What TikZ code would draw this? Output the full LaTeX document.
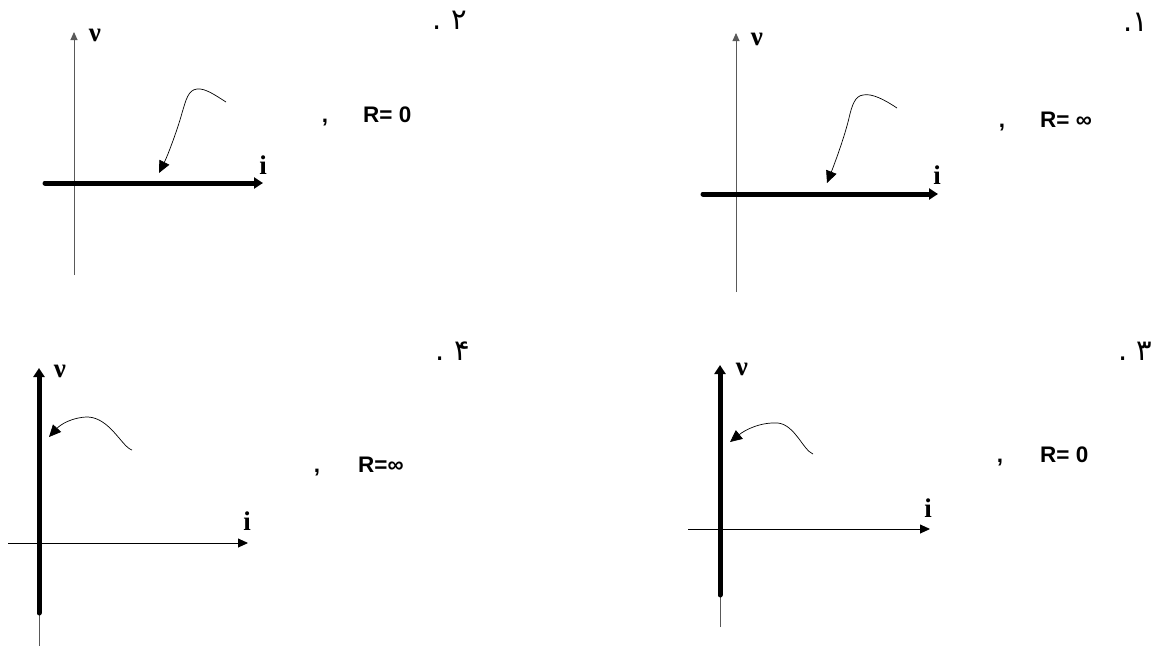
\documentclass[tikz,border=0pt]{standalone}
\usepackage{fontspec}
\setmainfont{Liberation Serif}
\newfontfamily\arialfont{Liberation Sans}
\newfontfamily\arabicfont[Script=Arabic]{DejaVu Sans}
\TeXXeTstate=1
\usetikzlibrary{arrows.meta}
\begin{document}
\begin{tikzpicture}[x=1pt,y=-1pt,
  thinaxis/.style={draw=gray!70!black, line width=0.9pt, -{Triangle[length=8pt,width=7pt]}},
  blackaxis/.style={draw=black, line width=0.9pt, -{Triangle[length=10pt,width=9pt]}},
  thinstub/.style={draw=gray!70!black, line width=0.9pt},
  thickline/.style={line width=5pt, line cap=round, -{Triangle[length=9pt,width=11pt]}},
  pointer/.style={line width=0.7pt, -{Triangle[length=12pt,width=11pt]}},
  axlabel/.style={inner sep=0pt, font=\fontsize{27}{27}\selectfont\bfseries},
  rlabel/.style={inner sep=0pt, anchor=base west, font=\arialfont\fontsize{22.5}{22.5}\selectfont\bfseries},
  commalabel/.style={inner sep=0pt, anchor=base, font=\arialfont\fontsize{22.5}{22.5}\selectfont\bfseries},
  numlabel/.style={inner sep=0pt, font=\arabicfont\fontsize{29}{29}\selectfont}]
\useasboundingbox (0,0) rectangle (1154,646);

% ---------- Panel 1 (top right) ----------
\coordinate (a1b) at (736,292); \coordinate (a1t) at (736,33);
\coordinate (h1l) at (703,194); \coordinate (h1r) at (938,194);
\draw[thinaxis] (a1b) -- (a1t);
\draw[thickline] (h1l) -- (h1r);
\coordinate (s1) at (897,108); \coordinate (p1) at (863,95); \coordinate (t1) at (827,183);
\draw[pointer] (s1) .. controls (885,100) and (872,93) .. (p1)
  .. controls (855,96) and (852,105) .. (849,118)
  .. controls (845,135) and (836,160) .. (t1);
\node[axlabel] (v1) at (757,39) {ν};
\node[axlabel] (i1) at (937,175) {i};
\node[commalabel] (c1) at (1002,127) {,};
\node[rlabel] (r1) at (1040,127) {R= ∞};
\node[numlabel] (n1) at (1136,22) {\beginR ۱.\endR};

% ---------- Panel 2 (top left) ----------
\coordinate (a2b) at (74,275); \coordinate (a2t) at (74,32);
\coordinate (h2l) at (45,183); \coordinate (h2r) at (263,183);
\draw[thinaxis] (a2b) -- (a2t);
\draw[thickline] (h2l) -- (h2r);
\coordinate (s2) at (226,102); \coordinate (p2) at (197,89); \coordinate (t2) at (159,173);
\draw[pointer] (s2) .. controls (215,95) and (205,88) .. (p2)
  .. controls (188,90) and (186,100) .. (182,113)
  .. controls (178,128) and (168,155) .. (t2);
\node[axlabel] (v2) at (95,35) {ν};
\node[axlabel] (i2) at (263,165) {i};
\node[commalabel] (c2) at (325,122) {,};
\node[rlabel] (r2) at (363,122) {R= 0};
\node[numlabel] (n2) at (450,20) {\beginR ۲ .\endR};

% ---------- Panel 4 (bottom left) ----------
\coordinate (a4b) at (39,646); \coordinate (a4m) at (39,600);
\coordinate (v4b) at (39,613); \coordinate (v4t) at (39,368);
\coordinate (h4l) at (8,543); \coordinate (h4r) at (248,543);
\draw[thinstub] (a4b) -- (a4m);
\draw[blackaxis] (h4l) -- (h4r);
\draw[thickline] (v4b) -- (v4t);
\coordinate (s4) at (132,450); \coordinate (p4) at (88,417); \coordinate (t4) at (49,437);
\draw[pointer] (s4) .. controls (122,447) and (110,418) .. (p4)
  .. controls (72,417) and (60,425) .. (t4);
\node[axlabel] (v4) at (60,371) {ν};
\node[axlabel] (i4) at (247,521) {i};
\node[commalabel] (c4) at (317,472) {,};
\node[rlabel] (r4) at (358,472) {R=∞};
\node[numlabel] (n4) at (453,351) {\beginR ۴ .\endR};

% ---------- Panel 3 (bottom right) ----------
\coordinate (a3b) at (720,627); \coordinate (a3m) at (720,580);
\coordinate (v3b) at (720,595); \coordinate (v3t) at (720,365);
\coordinate (h3l) at (688,529); \coordinate (h3r) at (930,529);
\draw[thinstub] (a3b) -- (a3m);
\draw[blackaxis] (h3l) -- (h3r);
\draw[thickline] (v3b) -- (v3t);
\coordinate (s3) at (813,454); \coordinate (p3) at (778,423); \coordinate (t3) at (730,442);
\draw[pointer] (s3) .. controls (803,450) and (795,425) .. (p3)
  .. controls (760,422) and (745,430) .. (t3);
\node[axlabel] (v3) at (742,369) {ν};
\node[axlabel] (i3) at (928,508) {i};
\node[commalabel] (c3) at (1000,462) {,};
\node[rlabel] (r3) at (1040,462) {R= 0};
\node[numlabel] (n3) at (1135,351) {\beginR ۳ .\endR};
\end{tikzpicture}
\end{document}
